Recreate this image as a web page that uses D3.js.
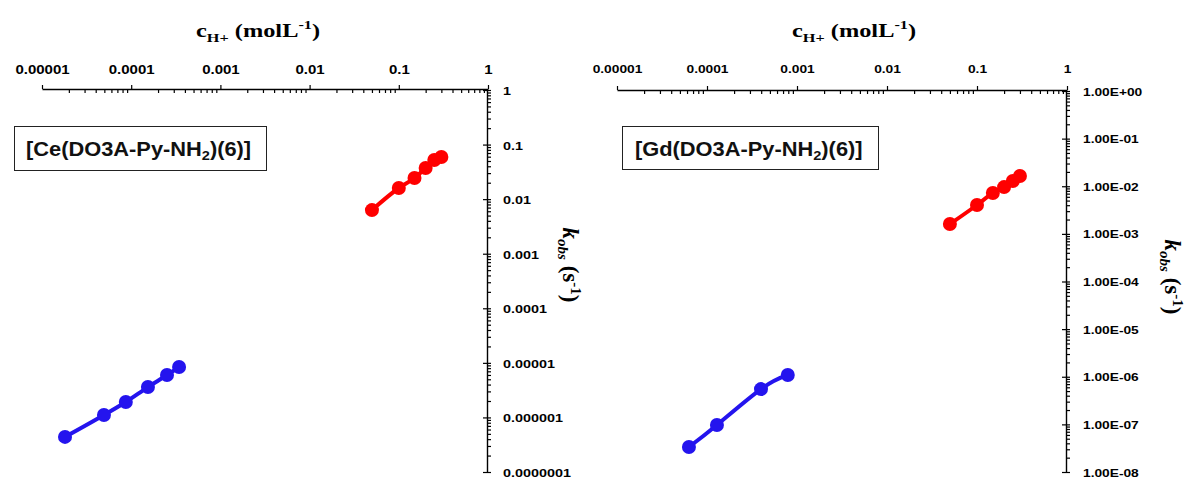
<!DOCTYPE html>
<html>
<head>
<meta charset="utf-8">
<script src="https://cdn.jsdelivr.net/npm/d3@7"></script>
<style>
html,body{margin:0;padding:0;background:#fff;}
svg{display:block;}
</style>
</head>
<body>
<svg id="chart" width="1190" height="479"></svg>
<script>
// ---------- data ----------
const xDecades = [1e-5, 1e-4, 1e-3, 1e-2, 1e-1, 1];
const xTickLabels = ["0.00001", "0.0001", "0.001", "0.01", "0.1", "1"];

const ceYDecades = [1, 1e-1, 1e-2, 1e-3, 1e-4, 1e-5, 1e-6, 1e-7];
const ceYLabels = ["1", "0.1", "0.01", "0.001", "0.0001", "0.00001", "0.000001", "0.0000001"];

const gdYDecades = [1, 1e-1, 1e-2, 1e-3, 1e-4, 1e-5, 1e-6, 1e-7, 1e-8];
const gdYLabels = ["1.00E+00", "1.00E-01", "1.00E-02", "1.00E-03", "1.00E-04", "1.00E-05", "1.00E-06", "1.00E-07", "1.00E-08"];

// Ce complex
const ceLowC = [1.81e-5, 4.95e-5, 8.7e-5, 1.54e-4, 2.52e-4, 3.44e-4];
const ceLowK = [4.4e-7, 1.11e-6, 1.92e-6, 3.6e-6, 5.98e-6, 8.4e-6];
const ceHighC = [0.05, 0.1, 0.15, 0.2, 0.25, 0.3];
const ceHighK = [0.0063, 0.016, 0.0244, 0.0372, 0.0522, 0.0592];

// Gd complex
const gdLowC = [6.3e-5, 1.29e-4, 3.98e-4, 7.9e-4];
const gdLowK = [3.35e-8, 9.7e-8, 5.5e-7, 1.09e-6];
const gdHighC = [0.05, 0.1, 0.15, 0.2, 0.25, 0.3];
const gdHighK = [0.00161, 0.00404, 0.0072, 0.0096, 0.0129, 0.0164];

const ceLabel = ["[Ce(DO3A-Py-NH", "2", ")(6)]"];
const gdLabel = ["[Gd(DO3A-Py-NH", "2", ")(6)]"];

// ---------- drawing ----------
const svg = d3.select("#chart");
const RED = "#ff0000", BLUE = "#2414ee";
const SX = 1.25; // horizontal stretch of the original picture

function minorTicks(lo, hi) {
  const out = [];
  for (let e = Math.round(Math.log10(lo)); e < Math.round(Math.log10(hi)); e++) {
    for (let m = 2; m <= 9; m++) out.push(m * Math.pow(10, e));
  }
  return out;
}

function panel(cfg) {
  const g = svg.append("g");
  const x = d3.scaleLog().domain([1e-5, 1]).range(cfg.xr);
  const y = d3.scaleLog().domain([1, cfg.yMin]).range(cfg.yr);
  const ax0 = cfg.yr[0] - 1;   // x axis y position
  const ay0 = cfg.xr[1] - 1;   // y axis x position

  // x axis major (labels above)
  const xa = g.append("g").attr("transform", `translate(0,${ax0})`)
    .call(d3.axisTop(x).tickValues(xDecades).tickSizeInner(4).tickSizeOuter(0)
      .tickFormat((d, i) => xTickLabels[i]));
  xa.select(".domain").attr("stroke", "#000").attr("stroke-width", 1.4);
  xa.selectAll(".tick line").attr("stroke", "#000").attr("stroke-width", 1.2);
  xa.selectAll(".tick text")
    .attr("y", 0).attr("dy", 0)
    .attr("transform", `translate(0,${cfg.xLabBase - ax0}) scale(${SX},1)`)
    .attr("fill", "#000")
    .style("font-family", "'Liberation Sans', Arial, sans-serif")
    .style("font-weight", "bold").style("font-size", cfg.xFont + "px");
  // x axis minor (ticks below)
  const xm = g.append("g").attr("transform", `translate(0,${ax0})`)
    .call(d3.axisBottom(x).tickValues(minorTicks(1e-5, 1)).tickSize(4).tickFormat(""));
  xm.select(".domain").remove();
  xm.selectAll(".tick line").attr("stroke", "#000").attr("stroke-width", 1.2);

  // y axis major
  const ya = g.append("g").attr("transform", `translate(${ay0},0)`)
    .call(d3.axisRight(y).tickValues(cfg.yDecades).tickSizeInner(4).tickSizeOuter(0)
      .tickFormat((d, i) => cfg.yLabels[i]));
  ya.select(".domain").attr("stroke", "#000").attr("stroke-width", 1.4);
  ya.selectAll(".tick line").attr("x1", -4).attr("stroke", "#000").attr("stroke-width", 1.2);
  ya.selectAll(".tick text")
    .attr("x", 0).attr("dy", 0)
    .attr("transform", `translate(${cfg.yLabX - ay0},${cfg.yLabDy}) scale(${SX},1)`)
    .attr("fill", "#000")
    .style("font-family", "'Liberation Sans', Arial, sans-serif")
    .style("font-weight", "bold").style("font-size", cfg.yFont + "px");
  // y axis minor
  const ym = g.append("g").attr("transform", `translate(${ay0},0)`)
    .call(d3.axisRight(y).tickValues(minorTicks(cfg.yMin, 1)).tickSize(4).tickFormat(""));
  ym.select(".domain").remove();
  ym.selectAll(".tick line").attr("stroke", "#000").attr("stroke-width", 1.2);

  // x title
  const xt = g.append("text")
    .attr("transform", `translate(${cfg.xTitle[0]},${cfg.xTitle[1]}) scale(${SX},1)`)
    .attr("text-anchor", "middle")
    .style("font-family", "'Liberation Serif', 'Times New Roman', serif")
    .style("font-weight", "bold").style("font-size", "19.5px");
  xt.append("tspan").text("c");
  xt.append("tspan").attr("dy", 5).style("font-size", "13px").text("H+");
  xt.append("tspan").attr("dy", -5).text(" (molL");
  xt.append("tspan").attr("dy", -8).style("font-size", "13px").text("-1");
  xt.append("tspan").attr("dy", 8).text(")");

  // y title (rotated, reading downward)
  const yt = g.append("text")
    .attr("transform", `translate(${cfg.yTitle[0]},${cfg.yTitle[1]}) rotate(90)`)
    .attr("text-anchor", "middle")
    .style("font-family", "'Liberation Serif', 'Times New Roman', serif")
    .style("font-weight", "bold").style("font-size", "23px");
  yt.append("tspan").style("font-style", "italic").text("k");
  yt.append("tspan").attr("dy", 5).style("font-style", "italic").style("font-size", "15px").text("obs");
  yt.append("tspan").attr("dy", -5).text(" (s");
  yt.append("tspan").attr("dy", -8).style("font-size", "15px").text("-1");
  yt.append("tspan").attr("dy", 8).text(")");

  // label box
  const b = cfg.box;
  g.append("rect").attr("x", b[0] + 0.5).attr("y", b[1] + 0.5)
    .attr("width", b[2]).attr("height", b[3])
    .attr("fill", "#fff").attr("stroke", "#222").attr("stroke-width", 1);
  const lt = g.append("text")
    .attr("transform", `translate(${cfg.labX},${cfg.labY}) scale(1.12,1)`)
    .style("font-family", "'Liberation Sans', Arial, sans-serif")
    .style("font-weight", "bold").style("font-size", "19.5px").attr("fill", "#111");
  lt.append("tspan").text(cfg.label[0]);
  lt.append("tspan").attr("dy", 4).style("font-size", "13px").text(cfg.label[1]);
  lt.append("tspan").attr("dy", -4).text(cfg.label[2]);

  // series
  cfg.series.forEach(s => {
    const pts = s.c.map((c, i) => [c, s.k[i]]);
    g.append("path").datum(pts)
      .attr("fill", "none").attr("stroke", s.color).attr("stroke-width", 4)
      .attr("stroke-linejoin", "round")
      .attr("d", d3.line().x(d => x(d[0])).y(d => y(d[1])).curve(s.curve));
    g.selectAll(null).data(pts).enter().append("circle")
      .attr("cx", d => x(d[0])).attr("cy", d => y(d[1])).attr("r", 7)
      .attr("fill", s.color);
  });
}

panel({
  xr: [42, 488], yr: [90, 472], yMin: 1e-7,
  yDecades: ceYDecades, yLabels: ceYLabels,
  xLabBase: 74, xFont: 12, yLabX: 503, yLabDy: 4.5, yFont: 11.5,
  xTitle: [258, 37], yTitle: [563, 265],
  box: [14, 126, 252, 44], labX: 26, labY: 156, label: ceLabel,
  series: [
    {c: ceLowC, k: ceLowK, color: BLUE, curve: d3.curveMonotoneX},
    {c: ceHighC, k: ceHighK, color: RED, curve: d3.curveMonotoneX}
  ]
});

panel({
  xr: [617, 1067], yr: [91, 472], yMin: 1e-8,
  yDecades: gdYDecades, yLabels: gdYLabels,
  xLabBase: 73, xFont: 11, yLabX: 1083, yLabDy: 4, yFont: 11,
  xTitle: [854, 37], yTitle: [1165, 277],
  box: [622, 126, 256, 43], labX: 635, labY: 156, label: gdLabel,
  series: [
    {c: gdLowC, k: gdLowK, color: BLUE, curve: d3.curveNatural},
    {c: gdHighC, k: gdHighK, color: RED, curve: d3.curveMonotoneX}
  ]
});
</script>
</body>
</html>
